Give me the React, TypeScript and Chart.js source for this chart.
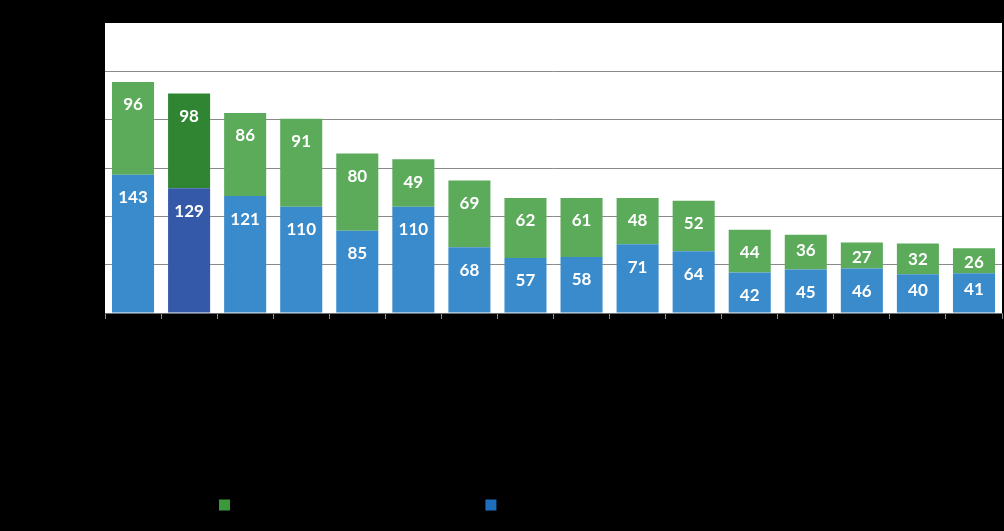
import React, { useEffect, useRef } from "react";
import { Chart, registerables } from "chart.js";

Chart.register(...registerables);

const categories = [
  "Category 1", "Category 2", "Category 3", "Category 4", "Category 5", "Category 6",
  "Category 7", "Category 8", "Category 9", "Category 10", "Category 11", "Category 12",
  "Category 13", "Category 14", "Category 15", "Category 16",
];
const lowerValues = [143, 129, 121, 110, 85, 110, 68, 57, 58, 71, 64, 42, 45, 46, 40, 41];
const upperValues = [96, 98, 86, 91, 80, 49, 69, 62, 61, 48, 52, 44, 36, 27, 32, 26];
const lowerName = "Lower segment of each bar (blue), highlighted bar in dark tones";
const upperName = "Upper segment of each bar (green hue)";
const highlightIndex = 1;
const yTicks = [0, 50, 100, 150, 200, 250, 300];

const BLUE = "#3A8BCB";
const BLUE_DARK = "#3459A8";
const GREEN = "#5BAB5B";
const GREEN_DARK = "#2F8532";
const LEGEND_GREEN = "#3A993A";
const LEGEND_BLUE = "#1E6EBE";

const bgPlugin = {
  id: "bgPlugin",
  beforeDraw(chart: any) {
    const { ctx, chartArea, width, height } = chart;
    ctx.save();
    ctx.fillStyle = "#000000";
    ctx.fillRect(0, 0, width, height);
    ctx.fillStyle = "#FFFFFF";
    ctx.fillRect(chartArea.left, chartArea.top, chartArea.right - chartArea.left, chartArea.bottom - chartArea.top);
    ctx.restore();
  },
};

const labelPlugin = {
  id: "labelPlugin",
  afterDatasetsDraw(chart: any) {
    const { ctx } = chart;
    ctx.save();
    ctx.fillStyle = "#FFFFFF";
    ctx.font = "bold 17px Lato";
    ctx.textAlign = "center";
    ctx.textBaseline = "middle";
    chart.data.datasets.forEach((ds: any, di: number) => {
      const meta = chart.getDatasetMeta(di);
      meta.data.forEach((el: any, i: number) => {
        const top = Math.min(el.y, el.base);
        const h = Math.abs(el.base - el.y);
        const off = h < 40 ? Math.min(h / 2 + 2, 16) : 23;
        ctx.fillText(String(ds.data[i]), el.x, top + off);
      });
    });
    ctx.restore();
  },
};

export default function App() {
  const ref = useRef<HTMLCanvasElement | null>(null);
  useEffect(() => {
    document.body.style.margin = "0";
    document.body.style.background = "#000";
    const canvas = ref.current!;
    const chart = new Chart(canvas, {
      type: "bar",
      data: {
        labels: categories,
        datasets: [
          {
            label: lowerName,
            data: lowerValues,
            backgroundColor: lowerValues.map((_, i) => (i === highlightIndex ? BLUE_DARK : BLUE)),
            borderWidth: 0,
          },
          {
            label: upperName,
            data: upperValues,
            backgroundColor: upperValues.map((_, i) => (i === highlightIndex ? GREEN_DARK : GREEN)),
            borderWidth: 0,
          },
        ],
      },
      options: {
        responsive: false,
        animation: false,
        maintainAspectRatio: false,
        layout: { padding: { left: 105, top: 23, right: 2, bottom: 9 } },
        datasets: { bar: { categoryPercentage: 1, barPercentage: 0.75 } },
        plugins: {
          tooltip: { enabled: false },
          legend: {
            display: true,
            position: "bottom",
            reverse: true,
            labels: {
              boxWidth: 11,
              boxHeight: 11,
              padding: 10,
              color: "#000000",
              font: { family: "Lato", size: 14 },
              generateLabels(c: any) {
                const items = Chart.defaults.plugins.legend.labels.generateLabels(c);
                return items.map((it: any) => ({
                  ...it,
                  fillStyle: it.datasetIndex === 0 ? LEGEND_BLUE : LEGEND_GREEN,
                  strokeStyle: "rgba(0,0,0,0)",
                  lineWidth: 0,
                }));
              },
            },
          },
        },
        scales: {
          x: {
            stacked: true,
            offset: true,
            ticks: { display: false },
            grid: {
              display: true,
              offset: true,
              drawOnChartArea: false,
              drawTicks: true,
              tickLength: 6,
              color: "#8C8C8C",
            },
            border: { display: true, color: "#6E6E6E", width: 1 },
            afterFit(scale: any) {
              scale.height = 175;
            },
          },
          y: {
            stacked: true,
            min: 0,
            max: 300,
            afterBuildTicks(scale: any) {
              scale.ticks = yTicks.map((v) => ({ value: v }));
            },
            ticks: { display: false },
            grid: {
              drawTicks: false,
              color: (ctx: any) =>
                ctx.tick && (ctx.tick.value === 300 || ctx.tick.value === 0) ? "rgba(0,0,0,0)" : "#8A8A8A",
            },
            border: { display: false },
          },
        },
      },
      plugins: [bgPlugin, labelPlugin],
    });
    return () => chart.destroy();
  }, []);
  return (
    <div style={{ width: 1004, height: 531, background: "#000" }}>
      <canvas ref={ref} width={1004} height={531} style={{ display: "block" }} />
    </div>
  );
}
